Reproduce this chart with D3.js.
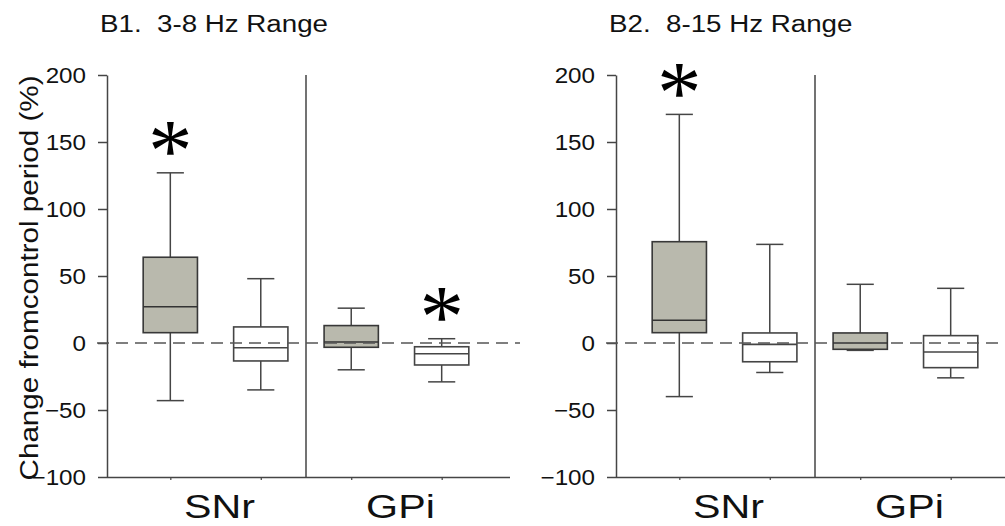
<!DOCTYPE html>
<html><head><meta charset="utf-8">
<script src="https://cdn.jsdelivr.net/npm/d3@7"></script>
<style>body{margin:0;background:#fff}svg{display:block}</style>
</head><body>
<script>
// ---- data ----
const panelTitles = ["B1.  3-8 Hz Range", "B2.  8-15 Hz Range"];
const categories = ["SNr", "GPi"];
const boxes = ["SNr-1", "SNr-2", "GPi-1", "GPi-2"];
const shaded = [true, false, true, false];
const yTicks = [-100, -50, 0, 50, 100, 150, 200];
const yLabel = "Change fromcontrol period (%)";

const b1Min = [-43, -35, -20, -29];
const b1Q1  = [7.7, -13.4, -3.2, -16.4];
const b1Med = [27, -3.5, 0.7, -8];
const b1Q3  = [64, 12, 13, -2.8];
const b1Max = [127, 48, 26, 3.2];
const b1Sig = [true, false, false, true];

const b2Min = [-40, -22, -5.5, -26];
const b2Q1  = [7.7, -14, -4.7, -18.4];
const b2Med = [17, -1, 0, -6.7];
const b2Q3  = [75.6, 7.5, 7.5, 5.5];
const b2Max = [170.6, 73.6, 43.8, 40.8];
const b2Sig = [true, false, false, false];

const panelStats = [
  {min: b1Min, q1: b1Q1, med: b1Med, q3: b1Q3, max: b1Max, sig: b1Sig},
  {min: b2Min, q1: b2Q1, med: b2Med, q3: b2Q3, max: b2Max, sig: b2Sig}
];

// ---- drawing ----
const W = 1005, H = 526;
const ink = "#454545";
const grayFill = "#b9b9ad";
const textCol = "#111";
const font = "'Liberation Sans', Arial, sans-serif";
const lw = 1.5;

const svg = d3.select("body").append("svg").attr("width", W).attr("height", H)
  .style("font-family", font);

const y = d3.scaleLinear().domain([-100, 200]).range([477, 75]);
const panelX = [107, 616];
const panelW = 403;

function stretch(sel, s) {
  sel.each(function () {
    const t = d3.select(this);
    const x = +t.attr("x") || 0, yy = +t.attr("y") || 0;
    t.attr("x", 0).attr("y", 0).attr("transform", `translate(${x},${yy}) scale(${s},1)`);
  });
}

function inkMetrics(fam, ch) {
  const c = document.createElement("canvas").getContext("2d");
  c.font = `100px ${fam}`;
  const m = c.measureText(ch);
  return {asc: m.actualBoundingBoxAscent, desc: m.actualBoundingBoxDescent,
          l: m.actualBoundingBoxLeft, r: m.actualBoundingBoxRight};
}
const starFont = "'Liberation Serif'";
const starM = inkMetrics(starFont, "*");

panelTitles.forEach((title, pi) => {
  const x0 = panelX[pi];
  const st = panelStats[pi];
  const x = d3.scalePoint().domain(boxes).range([x0, x0 + 398]).padding(0.7);
  const step = x.step();
  const bw = step * 0.6, cw = step * 0.3;
  const g = svg.append("g");

  // title
  g.append("text").attr("x", x0 - 7).attr("y", 32).text(title)
    .style("white-space", "pre").attr("font-size", 23.3).attr("fill", textCol)
    .call(stretch, 1.19);

  // y axis
  const ya = g.append("g").attr("transform", `translate(${x0},0)`)
    .call(d3.axisLeft(y).tickValues(yTicks).tickSize(9).tickPadding(12).tickSizeOuter(0));
  ya.select(".domain").attr("stroke", ink).attr("stroke-width", lw);
  ya.selectAll(".tick line").attr("stroke", ink).attr("stroke-width", lw);
  ya.selectAll(".tick text").attr("font-size", 22).attr("fill", textCol)
    .attr("font-family", font).attr("dy", "0.36em").call(stretch, 1.1);

  // x axis
  const xa = g.append("g").attr("transform", `translate(0,${y(-100)})`)
    .call(d3.axisBottom(x).tickSize(3).tickSizeOuter(0).tickFormat(""));
  xa.select(".domain").attr("d", `M${x0},0.5H${x0 + panelW}`).attr("stroke", ink).attr("stroke-width", lw);
  xa.selectAll(".tick line").attr("stroke", ink).attr("stroke-width", 1.2);

  // divider
  const xd = (x(boxes[1]) + x(boxes[2])) / 2;
  g.append("line").attr("x1", xd).attr("x2", xd).attr("y1", y(200)).attr("y2", y(-100))
    .attr("stroke", ink).attr("stroke-width", lw);

  // category labels
  categories.forEach((c, ci) => {
    const cx = (x(boxes[ci * 2]) + x(boxes[ci * 2 + 1])) / 2 + 4;
    g.append("text").attr("x", cx).attr("y", 518).attr("text-anchor", "middle")
      .attr("font-size", 33.5).attr("fill", textCol).text(c).call(stretch, 1.23);
  });

  // boxes
  boxes.forEach((b, i) => {
    const cx = x(b);
    const bg = g.append("g");
    bg.append("line").attr("x1", cx).attr("x2", cx).attr("y1", y(st.max[i])).attr("y2", y(st.min[i]))
      .attr("stroke", ink).attr("stroke-width", lw);
    [st.max[i], st.min[i]].forEach(v => {
      bg.append("line").attr("x1", cx - cw / 2).attr("x2", cx + cw / 2).attr("y1", y(v)).attr("y2", y(v))
        .attr("stroke", ink).attr("stroke-width", lw);
    });
    bg.append("rect").attr("x", cx - bw / 2).attr("width", bw)
      .attr("y", y(st.q3[i])).attr("height", y(st.q1[i]) - y(st.q3[i]))
      .attr("fill", shaded[i] ? grayFill : "#fff").attr("stroke", shaded[i] ? "#383838" : ink).attr("stroke-width", 1.6);
    bg.append("line").attr("x1", cx - bw / 2).attr("x2", cx + bw / 2).attr("y1", y(st.med[i])).attr("y2", y(st.med[i]))
      .attr("stroke", shaded[i] ? "#333" : ink).attr("stroke-width", 1.6);

    if (st.sig[i]) {
      const m = starM;
      const k = 33 / (m.asc + m.desc);
      const cyS = y(st.max[i]) - 34;
      g.append("text").attr("x", cx - (m.r - m.l) / 2 * k)
        .attr("y", cyS + (m.asc - m.desc) / 2 * k)
        .attr("font-size", 100 * k).attr("font-family", "Liberation Serif")
        .attr("fill", "#000").text("*");
    }
  });

  // zero reference line
  g.append("line").attr("x1", x0 - 10).attr("x2", x0 + panelW + 10).attr("y1", y(0)).attr("y2", y(0))
    .attr("stroke", "#555").attr("stroke-width", 1.6).attr("stroke-dasharray", "12,7");
});

// y label
svg.append("text").attr("transform", "translate(37.5,278) rotate(-90) scale(1.14,1)")
  .attr("text-anchor", "middle").attr("font-size", 26).attr("fill", textCol).text(yLabel);
</script>
</body></html>
